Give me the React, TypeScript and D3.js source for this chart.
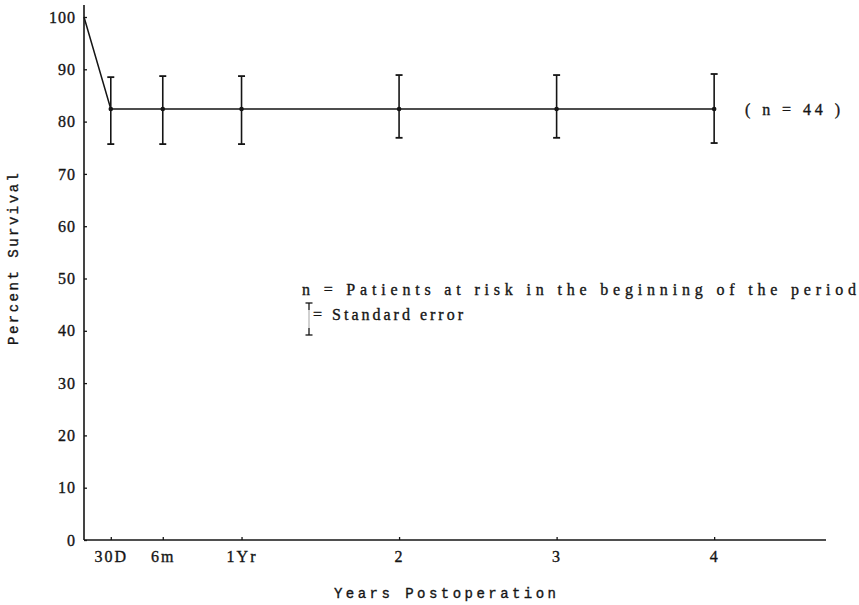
import { useEffect, useRef } from 'react'
import * as d3 from 'd3'

// years after operation (30D sits where the chart draws it, ~2 months)
const times = [0, 0.17, 0.5, 1, 2, 3, 4]
const survival = [100, 82.4, 82.4, 82.4, 82.4, 82.4, 82.4]
const upperSE = [null, 88.5, 88.7, 88.7, 88.9, 88.9, 89.1]
const lowerSE = [null, 75.7, 75.7, 75.7, 76.9, 76.9, 75.9]

const xTickValues = [0.17, 0.5, 1, 2, 3, 4]
const xTickLabels = ['30D', '6m', '1Yr', '2', '3', '4']
const yTickValues = [0, 10, 20, 30, 40, 50, 60, 70, 80, 90, 100]

const ink = '#151515'

export default function App() {
  const svgRef = useRef<SVGSVGElement>(null)

  useEffect(() => {
    if (!svgRef.current) return
    const svg = d3.select(svgRef.current)
    svg.selectAll('*').remove()

    const x = d3.scaleLinear().domain([0, 4.71]).range([84, 826])
    const y = d3.scaleLinear().domain([0, 100]).range([540, 17])

    // axes
    svg.append('line')
      .attr('x1', x(0)).attr('x2', x(0))
      .attr('y1', y(0)).attr('y2', y(102.3))
      .attr('stroke', ink).attr('stroke-width', 1.6)
    svg.append('line')
      .attr('x1', x(0)).attr('x2', x(4.71))
      .attr('y1', y(0)).attr('y2', y(0))
      .attr('stroke', ink).attr('stroke-width', 1.6)

    const yAxis = svg.append('g')
      .attr('transform', `translate(${x(0)},0)`)
      .call(d3.axisLeft(y).tickValues(yTickValues).tickSize(-3).tickPadding(8))
    yAxis.select('.domain').remove()
    yAxis.selectAll('.tick line').attr('stroke', ink).attr('stroke-width', 1.3)
    yAxis.selectAll('.tick text')
      .attr('font-family', '"Liberation Serif", serif')
      .attr('font-size', 16)
      .attr('letter-spacing', 1)
      .attr('fill', ink)
      .attr('stroke', ink)
      .attr('stroke-width', 0.35)

    const xAxis = svg.append('g')
      .attr('transform', `translate(0,${y(0)})`)
      .call(
        d3.axisBottom(x)
          .tickValues(xTickValues)
          .tickFormat((_, i) => xTickLabels[i])
          .tickSize(-3)
          .tickPadding(11)
      )
    xAxis.select('.domain').remove()
    xAxis.selectAll('.tick line').attr('stroke', ink).attr('stroke-width', 1.3)
    xAxis.selectAll('.tick text')
      .attr('font-family', '"Liberation Serif", serif')
      .attr('font-size', 16)
      .attr('letter-spacing', 2)
      .attr('fill', ink)
      .attr('stroke', ink)
      .attr('stroke-width', 0.35)

    // survival line
    const pts = times.map((t, i) => ({ t, v: survival[i], hi: upperSE[i], lo: lowerSE[i] }))
    const line = d3.line<{ t: number; v: number }>().x(d => x(d.t)).y(d => y(d.v))
    svg.append('path')
      .datum(pts)
      .attr('d', line)
      .attr('fill', 'none')
      .attr('stroke', ink)
      .attr('stroke-width', 1.5)

    // standard error bars
    const bars = svg.append('g')
      .selectAll('g')
      .data(pts.filter(d => d.hi != null))
      .enter()
      .append('g')
    bars.append('line')
      .attr('x1', d => x(d.t)).attr('x2', d => x(d.t))
      .attr('y1', d => y(d.hi as number)).attr('y2', d => y(d.lo as number))
      .attr('stroke', ink).attr('stroke-width', 1.6)
    bars.append('line')
      .attr('x1', d => x(d.t) - 3.5).attr('x2', d => x(d.t) + 3.5)
      .attr('y1', d => y(d.hi as number)).attr('y2', d => y(d.hi as number))
      .attr('stroke', ink).attr('stroke-width', 1.8)
    bars.append('line')
      .attr('x1', d => x(d.t) - 3.5).attr('x2', d => x(d.t) + 3.5)
      .attr('y1', d => y(d.lo as number)).attr('y2', d => y(d.lo as number))
      .attr('stroke', ink).attr('stroke-width', 1.8)
    bars.append('circle')
      .attr('cx', d => x(d.t)).attr('cy', d => y(d.v))
      .attr('r', 2.3)
      .attr('fill', ink)

    const textStyle = (sel: d3.Selection<SVGTextElement, unknown, null, undefined>, family: string, size: number) =>
      sel.attr('font-family', family)
        .attr('font-size', size)
        .attr('lengthAdjust', 'spacing')
        .attr('fill', ink)
        .attr('stroke', ink)
        .attr('stroke-width', 0.35)

    // n label at end of line
    svg.append('text')
      .attr('x', 745).attr('y', y(82.4) + 6)
      .attr('textLength', 95)
      .call(textStyle, '"Liberation Serif", serif', 16)
      .text('( n = 44 )')

    // axis titles
    svg.append('text')
      .attr('transform', 'translate(18,259) rotate(-90)')
      .attr('text-anchor', 'middle')
      .attr('textLength', 172)
      .call(textStyle, '"Liberation Mono", monospace', 14)
      .text('Percent  Survival')

    svg.append('text')
      .attr('x', 334).attr('y', 598)
      .attr('textLength', 222)
      .call(textStyle, '"Liberation Mono", monospace', 14)
      .text('Years  Postoperation')

    // key
    svg.append('text')
      .attr('x', 302).attr('y', 295)
      .attr('textLength', 554)
      .call(textStyle, '"Liberation Serif", serif', 16)
      .text('n = Patients at risk in the beginning of the period')

    const key = svg.append('g').attr('stroke', ink).attr('stroke-width', 1.3)
    key.append('line').attr('x1', 309).attr('x2', 309).attr('y1', 303).attr('y2', 310)
    key.append('line').attr('x1', 309).attr('x2', 309).attr('y1', 328).attr('y2', 335)
    key.append('line').attr('x1', 309).attr('x2', 309).attr('y1', 310).attr('y2', 328).attr('stroke-width', 0.4)
    key.append('line').attr('x1', 305.5).attr('x2', 312.5).attr('y1', 303).attr('y2', 303)
    key.append('line').attr('x1', 305.5).attr('x2', 312.5).attr('y1', 335).attr('y2', 335)

    svg.append('text')
      .attr('x', 313).attr('y', 320)
      .attr('textLength', 150)
      .call(textStyle, '"Liberation Serif", serif', 16)
      .text('= Standard error')
  }, [])

  return (
    <svg
      ref={svgRef}
      width={859}
      height={605}
      style={{ position: 'absolute', left: 0, top: 0, background: '#fff' }}
    />
  )
}
